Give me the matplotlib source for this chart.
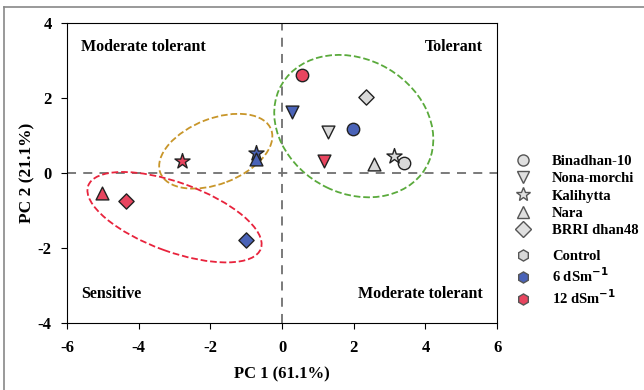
import matplotlib
matplotlib.use("Agg")
import matplotlib.pyplot as plt
from matplotlib.patches import Ellipse
from matplotlib.lines import Line2D

plt.rcParams["font.family"] = ["Liberation Serif", "DejaVu Serif"]
plt.rcParams["font.weight"] = "bold"
plt.rcParams["axes.unicode_minus"] = False

genotypes = ["Binadhan-10", "Nona-morchi", "Kalihytta", "Nara", "BRRI dhan48"]
genotype_markers = ["o", "v", "*", "^", "D"]
treatments = ["Control", "6 dSm$^{-1}$", "12 dSm$^{-1}$"]
treatment_colors = ["#d9d9d9", "#4a63b8", "#e8455f"]

# PC scores per treatment, in genotype order
pc1 = {
    "Control": [3.41, 1.28, 3.13, 2.57, 2.35],
    "6": [1.98, 0.28, -0.73, -0.73, -1.00],
    "12": [0.56, 1.17, -2.79, -5.03, -4.36],
}
pc2 = {
    "Control": [0.27, 1.09, 0.45, 0.24, 2.03],
    "6": [1.17, 1.63, 0.53, 0.37, -1.79],
    "12": [2.61, 0.32, 0.32, -0.53, -0.75],
}
keys = ["Control", "6", "12"]

fig = plt.figure(figsize=(6.44, 3.90), dpi=100)
ax = fig.add_axes([0.104, 0.172, 0.668, 0.769])

ax.axhline(0, color="#707070", ls=(0, (5, 4)), lw=1.3, zorder=1)
ax.axvline(0, color="#707070", ls=(0, (5, 4)), lw=1.3, zorder=1)

ax.add_patch(Ellipse((2.0, 1.25), 4.6, 3.6, angle=-25, fill=False,
                     ec="#5aaa3c", ls="--", lw=1.3, zorder=2))
ax.add_patch(Ellipse((-1.85, 0.58), 3.3, 1.75, angle=20, fill=False,
                     ec="#c8962a", ls="--", lw=1.3, zorder=2))
ax.add_patch(Ellipse((-3.0, -1.18), 5.1, 1.85, angle=-19, fill=False,
                     ec="#e8233c", ls="--", lw=1.3, zorder=2))

sizes = {"o": 80, "v": 85, "*": 130, "^": 85, "D": 60}
for k, col in zip(keys, treatment_colors):
    for i, m in enumerate(genotype_markers):
        ax.scatter(pc1[k][i], pc2[k][i], marker=m, s=sizes[m], c=col,
                   edgecolors="#222222", linewidths=1.0, zorder=3)

ax.set_xlim(-6, 6)
ax.set_ylim(-4, 4)
ax.set_xticks([-6, -4, -2, 0, 2, 4, 6])
ax.set_yticks([-4, -2, 0, 2, 4])
ax.tick_params(direction="out", length=4, labelsize=12, top=False, right=False)
ax.tick_params(axis="x", pad=8)
ax.tick_params(axis="y", pad=7)
for lab in ax.get_xticklabels() + ax.get_yticklabels():
    lab.set_fontweight("bold")
ax.set_xlabel("PC 1 (61.1%)", fontsize=12, fontweight="bold", labelpad=8)
ax.set_ylabel("PC 2 (21.1%)", fontsize=12.5, fontweight="bold", labelpad=2)

ax.text(-5.6, 3.25, "Moderate tolerant", fontsize=11.5, fontweight="bold")
ax.text(5.6, 3.25, "Tolerant", fontsize=11.5, fontweight="bold", ha="right")
ax.text(-5.6, -3.45, "Sensitive", fontsize=11.5, fontweight="bold", va="bottom")
ax.text(5.6, -3.45, "Moderate tolerant", fontsize=11.5, fontweight="bold",
        ha="right", va="bottom")

g_handles = [Line2D([], [], ls="", marker=m, ms=8 if m != "*" else 10,
                    mfc="#e0e0e0", mec="#555555") for m in genotype_markers]
t_handles = [Line2D([], [], ls="", marker="h", ms=8, mfc=c, mec="#555555")
             for c in treatment_colors]
prop = {"weight": "bold", "size": 10.5}
leg1 = fig.legend(g_handles, genotypes, loc="upper left", bbox_to_anchor=(0.789, 0.604),
                  frameon=False, prop=prop, handletextpad=1.0, labelspacing=0.29,
                  borderpad=0, borderaxespad=0)
leg2 = fig.legend(t_handles, treatments, loc="upper left", bbox_to_anchor=(0.789, 0.360),
                  frameon=False, prop=prop, handletextpad=1.0, labelspacing=0.22,
                  borderpad=0, borderaxespad=0)

fig.add_artist(Line2D([0.006, 0.006], [0, 0.982], color="#888888", lw=1.2,
                      transform=fig.transFigure))
fig.add_artist(Line2D([0.006, 1.0], [0.982, 0.982], color="#888888", lw=1.2,
                      transform=fig.transFigure))

fig.savefig("out.png", dpi=100)
